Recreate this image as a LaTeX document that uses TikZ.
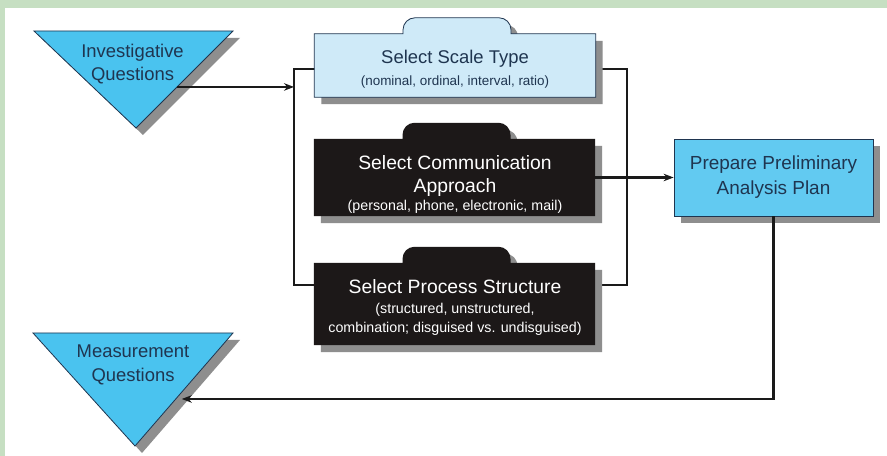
\documentclass[tikz,border=0pt]{standalone}
\usepackage{fontspec}
\setmainfont{Liberation Sans}
\usepackage{tikz}
\usetikzlibrary{calc,backgrounds,shadows,positioning,arrows.meta}
\usepackage{xcolor}
\definecolor{framegreen}{HTML}{C6DFC2}
\definecolor{trifill}{HTML}{4AC3EF}
\definecolor{planfill}{HTML}{62CAF1}
\definecolor{scalefill}{HTML}{CFEAF8}
\definecolor{darkfill}{HTML}{1C1818}
\definecolor{inkblue}{HTML}{1F3550}
\definecolor{shadowgray}{HTML}{8E8E8E}
\definecolor{wire}{HTML}{1A1A1A}
\tikzstyle{chart}=[
  >={Stealth[length=10bp,width=7.5bp]}, x=1bp, y=1bp, font=\fontsize{18.5}{23}\selectfont
]
\tikzstyle{boxshadow}=[
  drop shadow={shadow xshift=7bp, shadow yshift=-7bp, fill=shadowgray, opacity=1}
]
\tikzstyle{trishape}=[
  fill=trifill, draw=inkblue, line width=0.8bp, boxshadow
]
\tikzstyle{tritext}=[
  align=center, text=inkblue, inner sep=0pt
]
\tikzstyle{slot}=[
  minimum width=281bp, inner sep=0pt
]
\tikzstyle{litebox}=[
  fill=scalefill, draw=inkblue, line width=0.8bp, boxshadow
]
\tikzstyle{darkbox}=[
  fill=darkfill, boxshadow
]
\tikzstyle{boxtext}=[
  align=center, inner sep=0pt
]
\tikzstyle{darktext}=[
  boxtext, text=white, font=\fontsize{19.4}{23}\selectfont
]
\tikzstyle{planbox}=[
  draw=inkblue, fill=planfill, line width=0.8bp, minimum width=199bp,
  minimum height=77bp, align=center, text=inkblue, boxshadow,
  font=\fontsize{19}{23}\selectfont
]
\tikzstyle{wireline}=[
  draw=wire, line width=2.2bp
]
\newcommand{\subtxt}{\fontsize{13.5}{19}\selectfont}
\newcommand{\subdark}{\fontsize{14.3}{19}\selectfont}
\newcommand{\tabbed}[1]{(#1.south west) -- (#1.north west) -- ($(#1.north)+(-52,0)$)
  -- ++(0,4) arc[start angle=180,end angle=90,radius=12bp] -- ($(#1.north)+(44,16)$)
  arc[start angle=90,end angle=0,radius=12bp] -- ($(#1.north)+(56,0)$)
  -- (#1.north east) -- (#1.south east) -- cycle}

\begin{document}
\begin{tikzpicture}[chart]
    \useasboundingbox (0,0) rectangle (887,456);
    \coordinate (iq-l) at (34,425);
    \coordinate (iq-r) at (233,425);
    \coordinate (iq-a) at (136,328);
    \coordinate (mq-l) at (33,123);
    \coordinate (mq-r) at (233,123);
    \coordinate (mq-a) at (135,10);
    \coordinate (brk-nw) at (294,387);
    \coordinate (brk-se) at (627,171);
    \coordinate (iq-out) at ($(iq-r)!0.577!(iq-a)$);
    \coordinate (mq-in) at ($(mq-r)!0.584!(mq-a)+(6,0)$);
    \node (scale) at (455,390.5) [slot, minimum height=63bp] {};
    \node (comm) at (454.5,278.5) [slot, minimum height=77bp] {};
    \node (proc) at (454.5,152) [slot, minimum height=82bp] {};
    \node (plan) at (773.5,278.5) [planbox] {Prepare Preliminary\\[2bp]Analysis Plan};
    \node (iq) at (132.5,391.5) [tritext] {Investigative\\Questions};
    \node (mq) at (133,91.5) [tritext] {Measurement\\[1bp]Questions};
    \node (scale-t) at (455,387) [boxtext, text=inkblue]
      {Select Scale Type\\[-1bp]\subtxt (nominal, ordinal, interval, ratio)};
    \node (comm-t) at (455,271.5) [darktext]
      {Select Communication\\Approach\\[-5bp]\subdark (personal, phone, electronic, mail)};
    \node (proc-t) at (455,148.5) [darktext]
      {Select Process Structure\\[-3bp]\subdark (structured, unstructured,\\[-4bp]\subdark combination; disguised vs. undisguised)};
    \begin{scope}[on background layer]
      \fill [white] (0,0) rectangle (887,456);
      \fill [framegreen] (0,448) rectangle (887,456);
      \fill [framegreen] (0,0) rectangle (5,456);
      \draw [wireline] (brk-nw) rectangle (brk-se);
      \filldraw [trishape] (iq-l) -- (iq-r) -- (iq-a) -- cycle;
      \filldraw [trishape] (mq-l) -- (mq-r) -- (mq-a) -- cycle;
      \filldraw [litebox] \tabbed{scale};
      \fill [darkbox] \tabbed{comm};
      \fill [darkbox] \tabbed{proc};
    \end{scope}
    \draw [wireline,->] (iq-out) -- (iq-out -| brk-nw);
    \draw [wireline,->] (comm.east) -- (plan.west);
    \draw [wireline,->] (plan.south) |- (mq-in);
\end{tikzpicture}
\end{document}
